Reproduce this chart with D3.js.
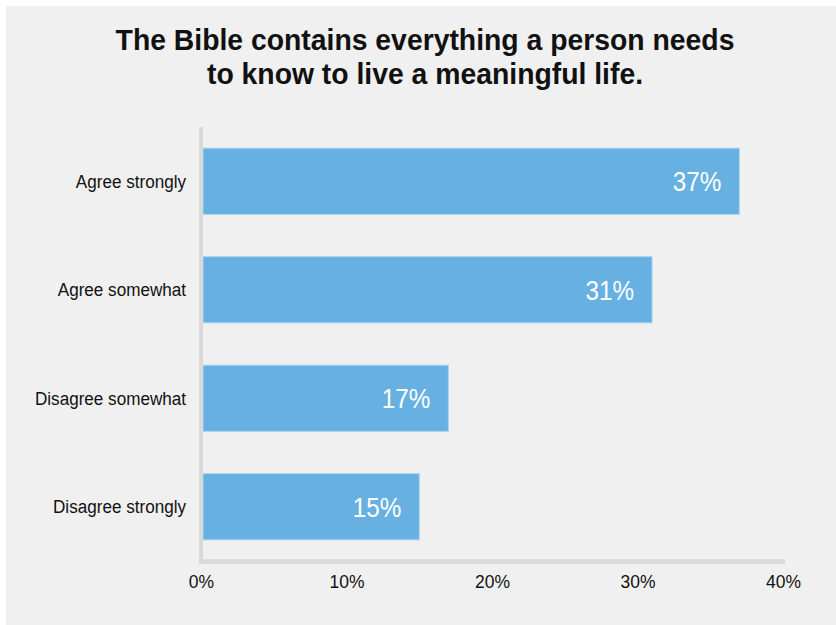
<!DOCTYPE html>
<html>
<head>
<meta charset="utf-8">
<script src="https://cdn.jsdelivr.net/npm/d3@7"></script>
<style>
  html, body { margin: 0; padding: 0; background: #ffffff; }
  svg { display: block; }
</style>
</head>
<body>
<svg id="chart" width="836" height="625"></svg>
<script>
// Survey responses, share of respondents
const categories = ["Agree strongly", "Agree somewhat", "Disagree somewhat", "Disagree strongly"];
const values = [37, 31, 17, 15];
const tickValues = [0, 10, 20, 30, 40];
const titleLines = ["The Bible contains everything a person needs", "to know to live a meaningful life."];

const svg = d3.select("#chart");
const W = 836, H = 625;
const font = "'Liberation Sans', Arial, sans-serif";
const condense = 0.9; // horizontal squeeze for a condensed look

// panel background
svg.append("rect").attr("x", 6).attr("y", 6).attr("width", W - 6).attr("height", H - 6)
  .attr("fill", "#f0f0f0");

// title, centred, each line squeezed horizontally
svg.append("g").selectAll("text").data(titleLines).join("text")
  .attr("transform", (d, i) => `translate(425,${50 + i * 34}) scale(0.945,1)`)
  .attr("text-anchor", "middle")
  .attr("font-family", font).attr("font-weight", "bold").attr("font-size", 30)
  .attr("fill", "#111").text(d => d);

const x = d3.scaleLinear().domain([0, 40]).range([201, 783]);
const y = d3.scaleBand().domain(categories).range([127, 561])
  .paddingInner(0.39).paddingOuter(0.195);

// bars
svg.append("g").selectAll("rect").data(values).join("rect")
  .attr("x", x(0) + 2)
  .attr("y", (d, i) => y(categories[i]))
  .attr("width", d => x(d) - x(0) - 2)
  .attr("height", y.bandwidth())
  .attr("fill", "#67b0e2")
  .attr("stroke", "#a9d2f0").attr("stroke-width", 1);

// value labels inside bars
svg.append("g").selectAll("text").data(values).join("text")
  .attr("transform", (d, i) => `translate(${x(d) - 18},${y(categories[i]) + y.bandwidth() / 2 + 10}) scale(${condense},1)`)
  .attr("text-anchor", "end")
  .attr("font-family", font).attr("font-size", 27)
  .attr("fill", "#ffffff").text(d => d + "%");

// axis lines
svg.append("line").attr("x1", 201).attr("x2", 201).attr("y1", 127).attr("y2", 564)
  .attr("stroke", "#d9d9d9").attr("stroke-width", 4);
svg.append("line").attr("x1", 199).attr("x2", 785).attr("y1", 561.5).attr("y2", 561.5)
  .attr("stroke", "#d9d9d9").attr("stroke-width", 4.5);

// category axis labels
const yAxis = d3.axisLeft(y).tickSize(0).tickPadding(0);
const gy = svg.append("g").attr("transform", "translate(186,0)").call(yAxis);
gy.select(".domain").remove();
gy.selectAll("text").attr("font-family", font).attr("font-size", 19)
  .attr("fill", "#111").attr("dy", "0.35em")
  .attr("transform", `scale(${condense},1)`);

// value axis tick labels
const xAxis = d3.axisBottom(x).tickValues(tickValues).tickFormat(d => d + "%").tickSize(0).tickPadding(0);
const gx = svg.append("g").attr("transform", "translate(0,575)").call(xAxis);
gx.select(".domain").remove();
gx.selectAll("text").attr("font-family", font).attr("font-size", 19)
  .attr("fill", "#111").attr("dy", "0.71em")
  .attr("transform", `scale(0.92,1)`);
</script>
</body>
</html>
